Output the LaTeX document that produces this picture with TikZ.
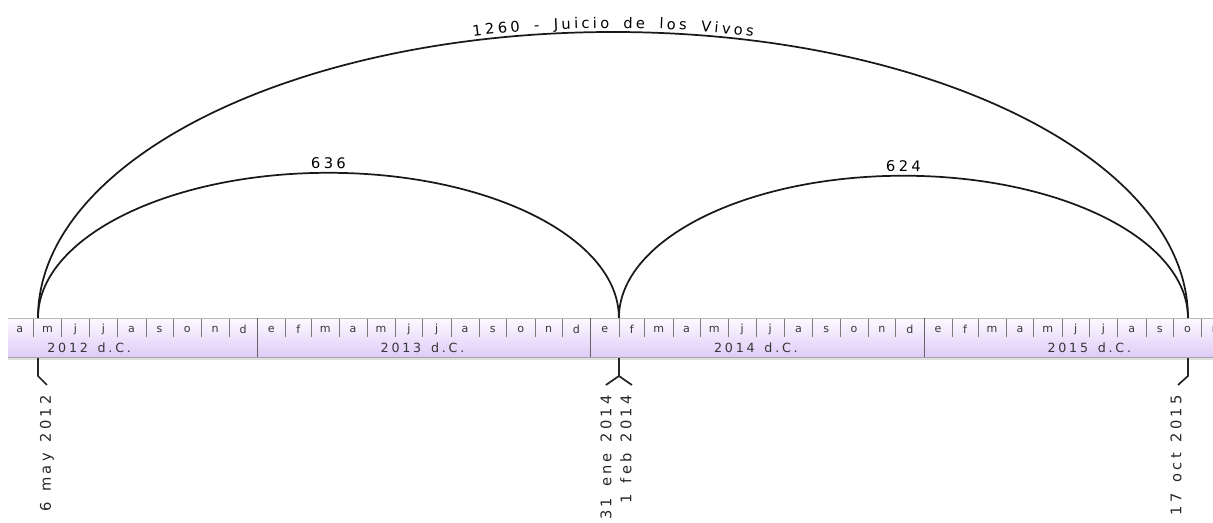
\documentclass[tikz,border=0pt]{standalone}
\usepackage{fontspec}
\setmainfont{DejaVu Sans}
\newfontfamily\espfont[LetterSpace=22]{DejaVu Sans}
\newfontfamily\mesfont[LetterSpace=18]{DejaVu Sans}
\usetikzlibrary{decorations.text,calc}

\definecolor{bandaclara}{RGB}{252,250,255}
\definecolor{bandalila}{RGB}{224,203,248}
\definecolor{rayagris}{RGB}{125,125,125}
\definecolor{letragris}{RGB}{55,55,55}

\newcommand{\fuentearco}{\espfont\fontsize{11pt}{12pt}\selectfont}
\newcommand{\fuentefecha}{\espfont\fontsize{11pt}{15pt}\selectfont}
\newcommand{\ek}{\kern2.4pt}
\newcommand{\ee}{\ \kern2.2pt}

\tikzset{
  arco/.style={line width=1.3pt, black!90},
  etiqarco/.style={postaction={decorate, decoration={text along path, text align=center, raise=#1}}},
  corchete/.style={line width=1.3pt, black!85, line join=miter},
  fecha/.style={rotate=90, anchor=east, inner sep=0pt, align=right, font=\fuentefecha, text=black!85},
  mes/.style={inner sep=0pt, font=\mesfont\fontsize{8.3pt}{9pt}\selectfont, text=letragris},
  ano/.style={inner sep=0pt, font=\espfont\fontsize{9.5pt}{10pt}\selectfont, text=letragris},
}

\begin{document}
\begin{tikzpicture}[x=0.75pt, y=0.75pt]
  \useasboundingbox (0,0) rectangle (1213,522);

  % 1. banda de tiempo (fondo lila)
  \shade[top color=bandaclara, bottom color=bandalila] (8,165) rectangle (1213,204);
  \draw[gray!55] (8,204) -- (1213,204);
  \draw[gray!25, line width=1.5pt] (8,163) -- (1213,163);
  \draw[gray!70] (8,165) -- (1213,165);

  % 2. meses y anos (x en dias desde el 1 ene 2012)
  \begin{scope}
    \clip (8,160) rectangle (1213,206);
    \begin{scope}[x=0.68505pt, xshift=-57.82pt]
      \foreach \d/\m/\n in {91/a/30,121/m/31,152/j/30,182/j/31,213/a/31,244/s/30,274/o/31,305/n/30,335/d/31,
          366/e/31,397/f/28,425/m/31,456/a/30,486/m/31,517/j/30,547/j/31,578/a/31,609/s/30,639/o/31,670/n/30,700/d/31,
          731/e/31,762/f/28,790/m/31,821/a/30,851/m/31,882/j/30,912/j/31,943/a/31,974/s/30,1004/o/31,1035/n/30,1065/d/31,
          1096/e/31,1127/f/28,1155/m/31,1186/a/30,1216/m/31,1247/j/30,1277/j/31,1308/a/31,1339/s/30,1369/o/31,1400/n/30}{
        \draw[rayagris] (\d,185) -- (\d,203);
        \node[mes] (mes\d) at ({\d+\n/2},193) {\m};
      }
      \foreach \d in {366,731,1096}
        \draw[rayagris!80!black] (\d,165) -- (\d,204);
      \foreach \d/\a in {182/2012,547/2013,912/2014,1277/2015}
        \node[ano] (ano\a) at (\d,174.5) {\a\ee d.C.};
    \end{scope}
  \end{scope}

  % 3. fechas marcadas
  \begin{scope}[x=0.68505pt, xshift=-57.82pt]
    \coordinate (may12) at (126,204);
    \coordinate (feb14) at (762,204);
    \coordinate (oct15) at (1385,204);
    \coordinate (may12b) at (126,164);
    \coordinate (feb14b) at (762,164);
    \coordinate (oct15b) at (1385,164);
  \end{scope}

  % 4. arcos de periodos (texto sobre el arco)
  \draw[arco, etiqarco=3pt, decoration={text={|\fuentearco|1{\ek}2{\ek}6{\ek}0{\ek} {\ek}-{\ek} {\ek}J{\ek}u{\ek}i{\ek}c{\ek}i{\ek}o{\ek} {\ek}d{\ek}e{\ek} {\ek}l{\ek}o{\ek}s{\ek} {\ek}V{\ek}i{\ek}v{\ek}o{\ek}s}}]
    (may12) arc[start angle=180, end angle=0, x radius=431.24pt, y radius=214.5pt];
  \draw[arco, etiqarco=3.5pt, decoration={text={|\fuentearco|6{\ek}3{\ek}6}}]
    (may12) arc[start angle=180, end angle=0, x radius=217.84pt, y radius=108.9pt];
  \draw[arco, etiqarco=3.5pt, decoration={text={|\fuentearco|6{\ek}2{\ek}4}}]
    (feb14) arc[start angle=180, end angle=0, x radius=213.39pt, y radius=106.7pt];

  % 5. corchetes y etiquetas de fecha
  \path (may12b) ++(0,-18) coordinate (may12k) ++(9,-9) coordinate (may12t);
  \path (feb14b) ++(0,-18) coordinate (feb14k);
  \path (oct15b) ++(0,-18) coordinate (oct15k) ++(-10,-9) coordinate (oct15t);
  \coordinate (feb14i) at ($(feb14k)+(-13,-9)$);
  \coordinate (feb14d) at ($(feb14k)+(13,-9)$);

  \draw[corchete] (may12b) -- (may12k) -- (may12t);
  \draw[corchete] (feb14b) -- (feb14k) -- (feb14i);
  \draw[corchete] (feb14k) -- (feb14d);
  \draw[corchete] (oct15b) -- (oct15k) -- (oct15t);

  \node[fecha] (lblmay12) at ($(may12t)+(0,-10)$) {6\ee may\ee 2012};
  \node[fecha] (lblfeb14) at ($(feb14k)+(-3,-19)$) {31\ee ene\ee 2014\\1\ee feb\ee 2014};
  \node[fecha] (lbloct15) at ($(oct15t)+(-2,-10)$) {17\ee oct\ee 2015};
\end{tikzpicture}
\end{document}
